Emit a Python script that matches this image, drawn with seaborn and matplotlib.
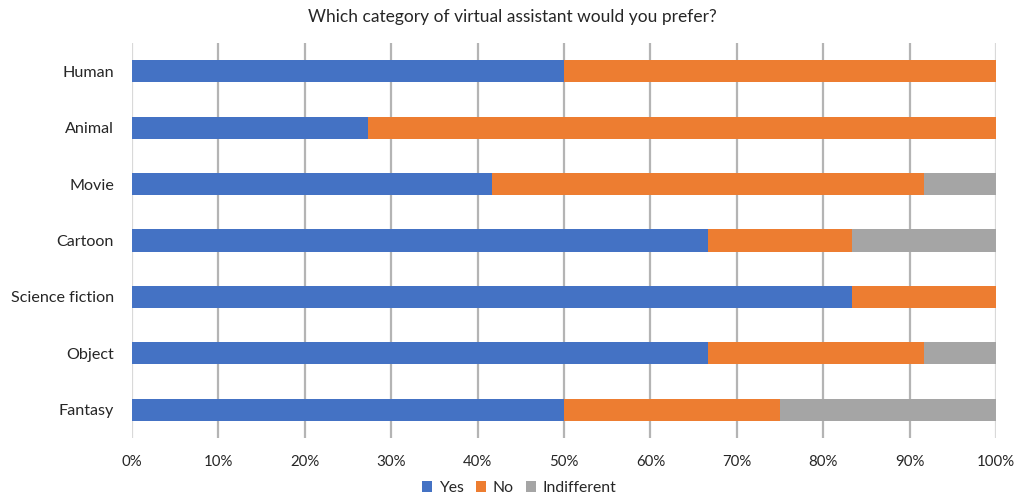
import numpy as np
import pandas as pd
import matplotlib
matplotlib.use("Agg")
import matplotlib.pyplot as plt
import seaborn as sns
from matplotlib.patches import Patch

# Survey answers, share of respondents (%)
categories = ["Human", "Animal", "Movie", "Cartoon", "Science fiction", "Object", "Fantasy"]
yes = [50.0, 27.27, 41.67, 66.67, 83.33, 66.67, 50.0]
no = [50.0, 72.73, 50.0, 16.67, 16.67, 25.0, 25.0]
indifferent = [0.0, 0.0, 8.33, 16.67, 0.0, 8.33, 25.0]
series_names = ["Yes", "No", "Indifferent"]
colors = ["#4472C4", "#ED7D31", "#A5A5A5"]
x_ticks = [0, 10, 20, 30, 40, 50, 60, 70, 80, 90, 100]

sns.set_theme(style="white")
plt.rcParams["font.family"] = ["Lato", "DejaVu Sans"]

df = pd.DataFrame({"category": categories, "Yes": yes, "No": no, "Indifferent": indifferent})
df["cum_yes"] = df["Yes"]
df["cum_no"] = df["Yes"] + df["No"]
df["cum_ind"] = df["cum_no"] + df["Indifferent"]

fig = plt.figure(figsize=(10.14, 4.95), dpi=100)
ax = fig.add_axes([132 / 1014, 1 - 438 / 495, 864 / 1014, 395 / 495])

# Stacked bars: draw cumulative totals, longest first, so each segment shows
for col, color in zip(["cum_ind", "cum_no", "cum_yes"], colors[::-1]):
    sns.barplot(data=df, x=col, y="category", order=categories, orient="h",
                color=color, width=0.39, saturation=1, linewidth=0, ax=ax, zorder=3)

ax.set_xlim(0, 100)
ax.set_ylim(6.5, -0.5)
ax.set_xticks(x_ticks)
ax.set_xticklabels([f"{t}%" for t in x_ticks])
ax.set_xlabel("")
ax.set_ylabel("")
for s in ax.spines.values():
    s.set_visible(False)

ax.grid(axis="x", color="#b4b4b4", linewidth=1.6, zorder=0)
ax.grid(axis="y", visible=False)
gl = ax.xaxis.get_gridlines()
gl[0].set_color("#d9d9d9")
gl[-1].set_color("#d9d9d9")
ax.set_axisbelow(True)

ax.tick_params(axis="x", length=0, pad=12, labelsize=10.8, labelcolor="#262626")
ax.tick_params(axis="y", length=0, pad=13, labelsize=11.6, labelcolor="#262626")

fig.text(0.505, 1 - 17 / 495, "Which category of virtual assistant would you prefer?",
         ha="center", va="center", fontsize=12.5, color="#262626")

handles = [Patch(facecolor=c, edgecolor="none", label=n) for c, n in zip(colors, series_names)]
fig.legend(handles=handles, loc="center", bbox_to_anchor=(0.512, 1 - 488 / 495), ncol=3,
           frameon=False, fontsize=11.3, handlelength=0.65, handleheight=0.65,
           handletextpad=0.4, columnspacing=0.8, labelcolor="#262626")

fig.savefig("out.png", dpi=100)
